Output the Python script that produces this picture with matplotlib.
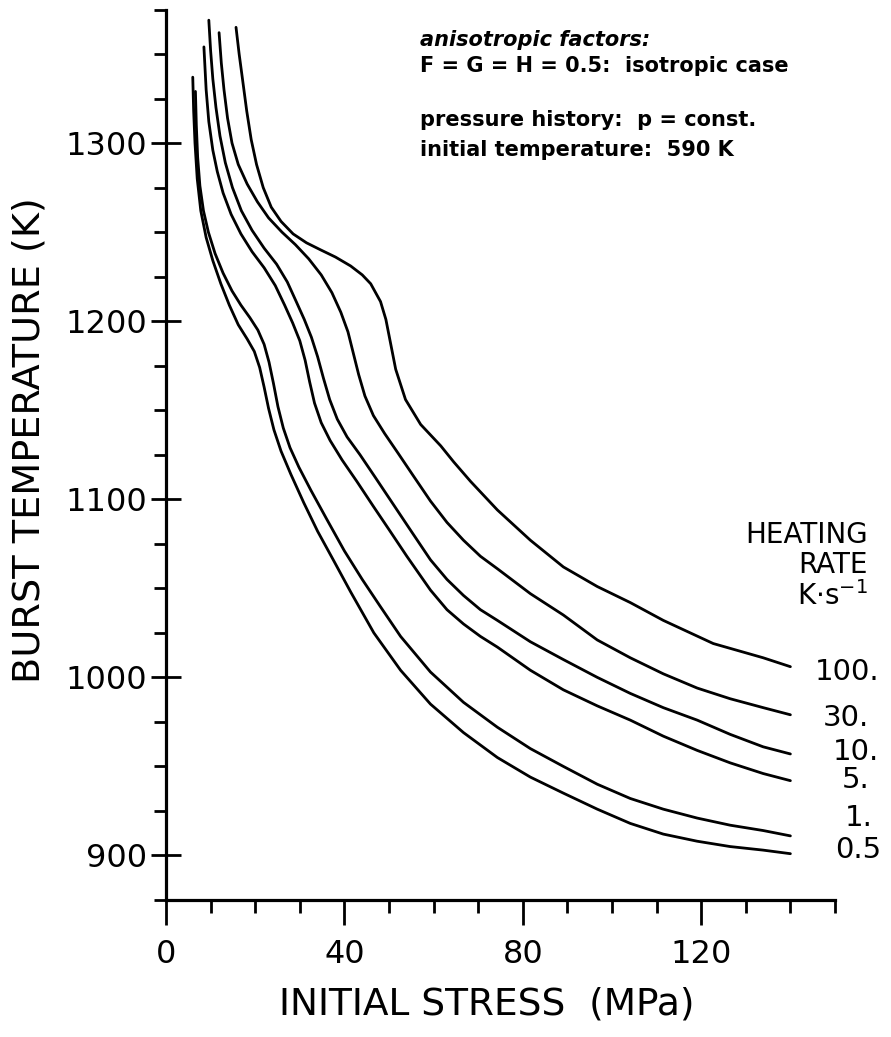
import matplotlib
matplotlib.use("Agg")
import matplotlib.pyplot as plt
from matplotlib.ticker import MultipleLocator, FixedLocator

W, H, DPI = 891, 1037, 100

# Burst temperature vs. initial stress, one curve per heating rate (K/s)
rate_labels = ["100.", "30.", "10.", "5.", "1.", "0.5"]

stress_100 = [15.7, 16.4, 17.2, 18.1, 19.1, 20.3, 21.8, 23.6, 25.8, 28.5, 31.5, 34.7,
              38.0, 41.4, 44.0, 45.9, 48.1, 49.3, 50.4, 51.5, 53.7, 57.1, 61.6,
              64.5, 68.3, 74.3, 81.7, 89.1, 96.7, 104.1, 111.5, 122.7, 133.9, 140.0]
temp_100 = [1365, 1350, 1335, 1318, 1302, 1288, 1275, 1264, 1256, 1249, 1244, 1240,
            1236, 1231, 1226, 1221, 1211, 1201, 1187, 1173, 1156, 1142, 1130,
            1121, 1110, 1094, 1077, 1062, 1051, 1042, 1032, 1019, 1011, 1006]

stress_30 = [11.9, 12.4, 13.0, 13.8, 14.8, 16.2, 18.2, 20.5, 23.0, 26.0, 29.0, 32.0,
             34.8, 37.2, 39.2, 40.8, 42.0, 43.2, 44.6, 46.5, 49.0, 52.0, 55.5, 59.3,
             63.0, 66.7, 70.5, 74.3, 81.7, 89.1, 96.7, 104.1, 111.5, 119.1, 126.5,
             133.9, 140.0]
temp_30 = [1362, 1345, 1330, 1314, 1300, 1288, 1277, 1267, 1258, 1250, 1243, 1235,
           1226, 1216, 1205, 1194, 1182, 1170, 1158, 1147, 1137, 1126, 1113, 1099,
           1087, 1077, 1068, 1061, 1047, 1035, 1021, 1011, 1002, 994, 988,
           983, 979]

stress_10 = [9.6, 10.0, 10.5, 11.2, 12.1, 13.3, 14.9, 16.9, 19.3, 22.0, 24.8, 27.2,
             29.2, 31.0, 32.6, 34.0, 35.3, 36.7, 38.4, 40.6, 43.5, 47.0, 51.0, 55.0,
             59.3, 63.0, 66.7, 70.5, 74.3, 81.7, 89.1, 96.7, 104.1, 111.5, 119.1,
             126.5, 133.9, 140.0]
temp_10 = [1369, 1352, 1336, 1320, 1304, 1289, 1275, 1262, 1251, 1241, 1232, 1222,
           1211, 1201, 1191, 1180, 1168, 1156, 1145, 1135, 1125, 1112, 1097, 1082,
           1066, 1055, 1046, 1038, 1032, 1020, 1010, 1000, 991, 983, 976,
           968, 961, 957]

stress_5 = [8.5, 9.0, 9.6, 10.5, 11.5, 12.8, 14.6, 16.8, 19.3, 22.0, 24.5, 26.6,
            28.4, 30.0, 31.2, 32.2, 33.3, 34.8, 36.8, 39.5, 42.8, 46.5, 50.0, 54.0,
            59.3, 63.0, 66.7, 70.5, 74.3, 81.7, 89.1, 96.7, 104.1, 111.5, 119.1,
            126.5, 133.9, 140.0]
temp_5 = [1354, 1330, 1312, 1296, 1284, 1272, 1260, 1249, 1239, 1230, 1220, 1209,
          1199, 1189, 1178, 1166, 1154, 1143, 1133, 1122, 1110, 1096, 1083, 1068,
          1049, 1038, 1030, 1023, 1017, 1004, 993, 984, 976, 967, 959,
          952, 946, 942]

stress_1 = [6.6, 6.8, 7.1, 7.6, 8.4, 9.5, 11.0, 12.8, 14.8, 16.8, 18.8, 20.6,
            22.0, 23.1, 24.1, 25.1, 26.3, 27.8, 29.8, 32.5, 36.0, 40.0, 44.0, 48.0,
            52.6, 59.3, 66.7, 74.3, 81.7, 89.1, 96.7, 104.1, 111.5, 119.1, 126.5,
            133.9, 140.0]
temp_1 = [1329, 1310, 1292, 1276, 1262, 1250, 1238, 1227, 1217, 1209, 1202, 1195,
          1187, 1177, 1165, 1152, 1140, 1129, 1118, 1105, 1089, 1071, 1055, 1040,
          1023, 1003, 986, 972, 960, 950, 940, 932, 926, 921, 917,
          914, 911]

stress_05 = [6.0, 6.2, 6.5, 7.0, 7.8, 9.0, 10.5, 12.3, 14.2, 16.2, 18.2, 19.8,
             21.0, 22.0, 23.0, 24.2, 25.8, 28.0, 30.9, 34.0, 37.5, 41.4, 46.6, 52.6,
             59.3, 66.7, 74.3, 81.7, 89.1, 96.7, 104.1, 111.5, 119.1, 126.5, 133.9,
             140.0]
temp_05 = [1337, 1318, 1300, 1280, 1262, 1247, 1234, 1221, 1209, 1198, 1190, 1183,
           1174, 1163, 1151, 1139, 1127, 1114, 1098, 1082, 1066, 1048, 1025, 1004,
           985, 969, 955, 944, 935, 926, 918, 912, 908, 905, 903,
           901]

series = [
    (stress_100, temp_100),
    (stress_30, temp_30),
    (stress_10, temp_10),
    (stress_5, temp_5),
    (stress_1, temp_1),
    (stress_05, temp_05),
]

x_major = [0, 40, 80, 120]
y_major = [900, 1000, 1100, 1200, 1300]

# label placement in figure pixels (left x, centre y)
label_pos = [(815, 672), (823, 718), (833, 752), (842, 780), (845, 818), (835, 850)]

plt.rcParams["font.family"] = ["DejaVu Sans"]


def fx(px):
    return px / W


def fy(py):
    return 1 - py / H


fig = plt.figure(figsize=(W / DPI, H / DPI), dpi=DPI)
ax_left, ax_right, ax_top, ax_bottom = 166, 835, 9.5, 900
ax = fig.add_axes([fx(ax_left), fy(ax_bottom), (ax_right - ax_left) / W,
                   (ax_bottom - ax_top) / H])

for xs, ts in series:
    ax.plot(xs, ts, color="black", lw=2.0, solid_capstyle="round",
            solid_joinstyle="round")

ax.set_xlim(0, 150)
ax.set_ylim(875, 1375)

for side in ("top", "right"):
    ax.spines[side].set_visible(False)
for side in ("left", "bottom"):
    ax.spines[side].set_linewidth(2.3)

ax.xaxis.set_major_locator(FixedLocator(x_major))
ax.xaxis.set_minor_locator(MultipleLocator(10))
ax.yaxis.set_major_locator(FixedLocator(y_major))
ax.yaxis.set_minor_locator(MultipleLocator(25))

ax.tick_params(axis="x", which="major", direction="out", length=18, width=2.0,
               pad=10, labelsize=23)
ax.tick_params(axis="x", which="minor", direction="out", length=9, width=2.0)
ax.tick_params(axis="y", which="major", direction="inout", length=21, width=2.0,
               pad=3, labelsize=23)
ax.tick_params(axis="y", which="minor", direction="out", length=9, width=2.0)

ax.set_xticklabels([str(v) for v in x_major])
ax.set_yticklabels([str(v) for v in y_major])

fig.text(fx(487), fy(1005), "INITIAL STRESS  (MPa)", ha="center", va="center",
         fontsize=27)
fig.text(fx(30), fy(440), "BURST TEMPERATURE (K)", ha="center", va="center",
         rotation=90, fontsize=27.5)

note_kw = dict(ha="left", va="center", fontsize=15, fontweight="bold")
fig.text(fx(420), fy(40), "anisotropic factors:", style="italic", **note_kw)
fig.text(fx(420), fy(66), "F = G = H = 0.5:  isotropic case", **note_kw)
fig.text(fx(420), fy(120), "pressure history:  p = const.", **note_kw)
fig.text(fx(420), fy(150), "initial temperature:  590 K", **note_kw)

head_kw = dict(ha="right", va="center", fontsize=20)
fig.text(fx(868), fy(535), "HEATING", **head_kw)
fig.text(fx(868), fy(565), "RATE", **head_kw)
fig.text(fx(868), fy(596), r"K$\cdot$s$^{-1}$", **head_kw)

for lab, (px, py) in zip(rate_labels, label_pos):
    fig.text(fx(px), fy(py), lab, ha="left", va="center", fontsize=21)

fig.savefig("out.png", dpi=DPI, facecolor="white")
